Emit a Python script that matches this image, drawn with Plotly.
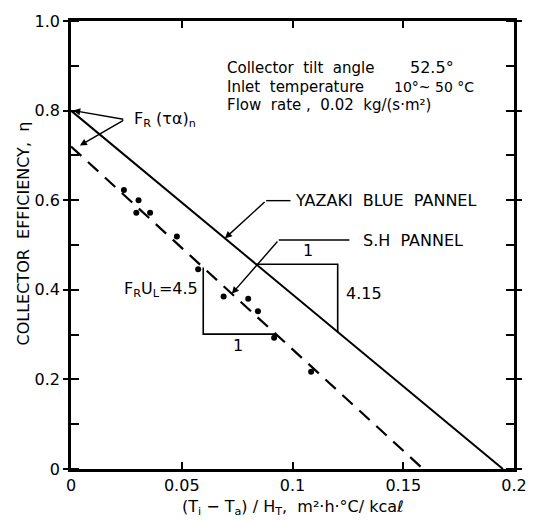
import plotly.graph_objects as go

# ---- data ----
blue_x = [0.0, 0.195]          # YAZAKI BLUE PANNEL line
blue_eta = [0.80, 0.0]
sh_x = [0.0, 0.159]            # S.H PANNEL line (dashed)
sh_eta = [0.72, 0.0]
pts_x = [0.0239, 0.0305, 0.0295, 0.0357, 0.0478, 0.0574, 0.0689, 0.0800, 0.0844, 0.0917, 0.1084]
pts_eta = [0.623, 0.600, 0.572, 0.572, 0.519, 0.446, 0.385, 0.380, 0.352, 0.293, 0.217]
x_ticks = [0, 0.05, 0.1, 0.15, 0.2]
x_tick_labels = ["0", "0.05", "0.1", "0.15", "0.2"]
y_ticks = [0, 0.2, 0.4, 0.6, 0.8, 1.0]
y_tick_labels = ["0", "0.2", "0.4", "0.6", "0.8", "1.0"]

FONT = "DejaVu Sans"
BLACK = "black"


def on_line(xs, ys, x):
    s = (ys[1] - ys[0]) / (xs[1] - xs[0])
    return ys[0] + s * (x - xs[0])


fig = go.Figure()
fig.add_trace(go.Scatter(x=blue_x, y=blue_eta, mode="lines",
                         line=dict(color=BLACK, width=2), hoverinfo="skip"))
fig.add_trace(go.Scatter(x=sh_x, y=sh_eta, mode="lines",
                         line=dict(color=BLACK, width=2.2, dash="14px,9px"), hoverinfo="skip"))
fig.add_trace(go.Scatter(x=pts_x, y=pts_eta, mode="markers",
                         marker=dict(color=BLACK, size=6), hoverinfo="skip"))

# slope triangle for the solid line
bx1, bx2 = 0.0836, 0.1204
by1, by2 = on_line(blue_x, blue_eta, bx1), on_line(blue_x, blue_eta, bx2)
fig.add_trace(go.Scatter(x=[bx1, bx2, bx2], y=[by1, by1, by2], mode="lines",
                         line=dict(color=BLACK, width=1.6), hoverinfo="skip"))
# slope triangle for the dashed line
sx1, sx2 = 0.0597, 0.0925
sy1, sy2 = on_line(sh_x, sh_eta, sx1), on_line(sh_x, sh_eta, sx2)
fig.add_trace(go.Scatter(x=[sx1, sx1, sx2], y=[sy1, sy2, sy2], mode="lines",
                         line=dict(color=BLACK, width=1.6), hoverinfo="skip"))

# leader lines (horizontal parts)
fig.add_trace(go.Scatter(x=[0.0881, 0.0991], y=[0.599, 0.599], mode="lines",
                         line=dict(color=BLACK, width=1.4), hoverinfo="skip"))
fig.add_trace(go.Scatter(x=[0.0938, 0.1257], y=[0.511, 0.511], mode="lines",
                         line=dict(color=BLACK, width=1.4), hoverinfo="skip"))

ann = []


def txt(x, y, s, xanchor="left", size=15):
    ann.append(dict(x=x, y=y, xref="x", yref="y", text=s, showarrow=False,
                    xanchor=xanchor, yanchor="middle",
                    font=dict(family=FONT, size=size, color=BLACK)))


def arrow(x, y, ax, ay):
    ann.append(dict(x=x, y=y, ax=ax, ay=ay, xref="x", yref="y", axref="x", ayref="y",
                    text="", showarrow=True, arrowhead=2, arrowsize=1, arrowwidth=1.4,
                    arrowcolor=BLACK))


txt(0.0695, 0.896, "Collector  tilt  angle")
txt(0.152, 0.896, "52.5°", size=16)
txt(0.0695, 0.852, "Inlet  temperature")
txt(0.145, 0.852, "10°~ 50 °C", size=14)
txt(0.0695, 0.812, "Flow  rate ,  0.02  kg/(s·m²)")
txt(0.0275, 0.780, "F<sub>R</sub> (τα)<sub>n</sub>", size=16)
arrow(0.001, 0.800, 0.0243, 0.780)
arrow(0.004, 0.722, 0.0243, 0.780)
txt(0.1004, 0.599, "YAZAKI  BLUE  PANNEL", size=16)
arrow(0.0695, on_line(blue_x, blue_eta, 0.0695), 0.0881, 0.599)
txt(0.131, 0.511, "S.H  PANNEL", size=16)
arrow(0.0726, on_line(sh_x, sh_eta, 0.0726), 0.0938, 0.511)
txt((bx1 + bx2) / 2 + 0.002, by1 + 0.03, "1", size=16)
txt(bx2 + 0.003, (by1 + by2) / 2 + 0.01, "4.15", size=16)
txt(sx1 - 0.0015, on_line(sh_x, sh_eta, sx1) - 0.05, "F<sub>R</sub>U<sub>L</sub>=4.5", xanchor="right", size=16)
txt((sx1 + sx2) / 2 - 0.004, sy2 - 0.025, "1", size=16)

ann.append(dict(x=0.5, y=-0.085, xref="paper", yref="paper", showarrow=False,
                text="(T<sub>i</sub> − T<sub>a</sub>) / H<sub>T</sub>,  m²·h·°C/ kcaℓ",
                xanchor="center", yanchor="middle", font=dict(family=FONT, size=16, color=BLACK)))
ann.append(dict(x=-0.108, y=0.526, xref="paper", yref="paper", showarrow=False,
                text="COLLECTOR  EFFICIENCY,  η", textangle=-90,
                xanchor="center", yanchor="middle", font=dict(family=FONT, size=16, color=BLACK)))

fig.update_layout(
    width=539, height=520,
    margin=dict(l=71, r=16, t=15, b=51),
    paper_bgcolor="white", plot_bgcolor="white",
    showlegend=False,
    annotations=ann,
    font=dict(family=FONT, size=16, color=BLACK),
)
fig.update_xaxes(range=[0, 0.2], tickvals=x_ticks, ticktext=x_tick_labels,
                 showgrid=False, zeroline=False, showline=True, linecolor=BLACK, linewidth=2.5,
                 mirror="allticks", ticks="inside", ticklen=7, tickwidth=1.5, tickcolor=BLACK,
                 tickfont=dict(family=FONT, size=16, color=BLACK))
fig.update_yaxes(range=[0, 1.0], tickvals=y_ticks, ticktext=y_tick_labels,
                 showgrid=False, zeroline=False, showline=True, linecolor=BLACK, linewidth=2.5,
                 mirror="allticks", ticks="outside", ticklen=5, tickwidth=1.5, tickcolor=BLACK,
                 minor=dict(dtick=0.1, ticks="inside", ticklen=8, tickwidth=1.5, tickcolor=BLACK),
                 tickfont=dict(family=FONT, size=16, color=BLACK))

fig.write_html("out.html")
